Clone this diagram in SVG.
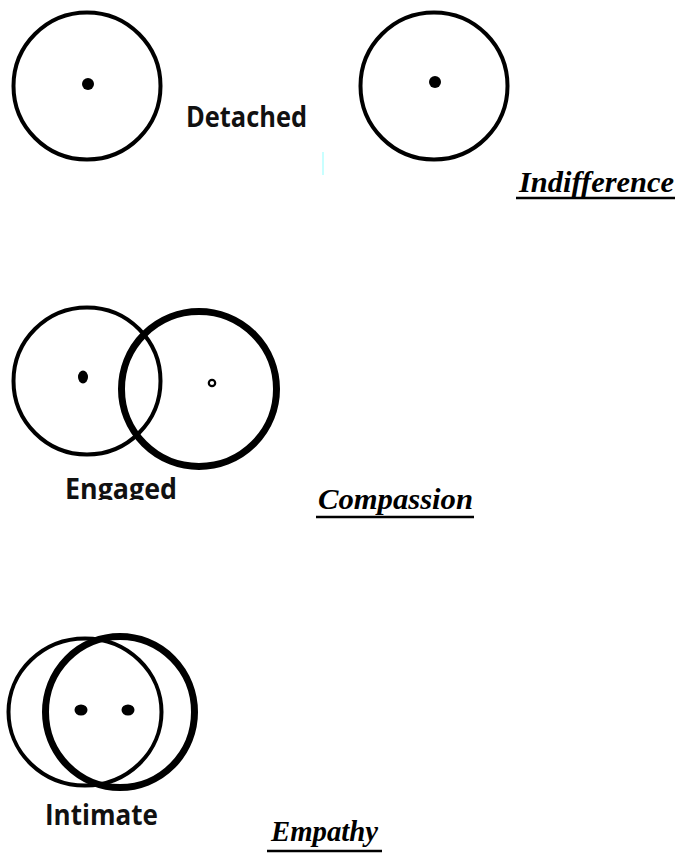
<svg xmlns="http://www.w3.org/2000/svg" width="679" height="853" viewBox="0 0 679 853">
<style>
.thin{fill:none;stroke:#000;stroke-width:4}
.thick{fill:none;stroke:#000;stroke-width:7}
.dot{fill:#000}
.lbl{font-family:"Open Sans","Liberation Sans",sans-serif;font-weight:bold;font-size:28px;fill:#111}
.ttl{font-family:"Liberation Serif","Times New Roman",serif;font-weight:bold;font-style:italic;font-size:29px;fill:#000}
.ul{stroke:#000;stroke-width:2.6}
</style>
<defs>
<clipPath id="engclip"><rect x="50" y="470" width="150" height="30"/></clipPath>
</defs>
<rect width="679" height="853" fill="#fff"/>
<g id="detached">
<circle class="thin" cx="87" cy="86" r="73.5"/>
<circle class="dot" cx="88" cy="84" r="6"/>
<text class="lbl" x="186" y="127" textLength="121" lengthAdjust="spacingAndGlyphs">Detached</text>
<line x1="323" y1="152" x2="323" y2="175" stroke="#c8ffff" stroke-width="2"/>
</g>
<g id="indifference">
<circle class="thin" cx="434" cy="86" r="73.5"/>
<circle class="dot" cx="435" cy="82" r="6"/>
<text class="ttl" x="519" y="192" textLength="155" lengthAdjust="spacingAndGlyphs">Indifference</text>
<line class="ul" x1="516" y1="198" x2="675" y2="198"/>
</g>
<g id="engaged">
<circle class="thin" cx="87" cy="381" r="73.5"/>
<circle class="thick" cx="199" cy="389" r="77.5"/>
<ellipse class="dot" cx="83" cy="377" rx="5" ry="6.5"/>
<circle cx="212" cy="383" r="3.2" fill="none" stroke="#000" stroke-width="2.2"/>
<text class="lbl" x="65" y="499" textLength="112" lengthAdjust="spacingAndGlyphs" clip-path="url(#engclip)">Engaged</text>
</g>
<g id="compassion">
<text class="ttl" x="318" y="509" textLength="155" lengthAdjust="spacingAndGlyphs">Compassion</text>
<line class="ul" x1="316" y1="517" x2="474" y2="517"/>
</g>
<g id="intimate">
<ellipse class="thin" cx="85" cy="712" rx="76.5" ry="73.5"/>
<ellipse class="thick" cx="120" cy="712" rx="74.5" ry="75.5"/>
<ellipse class="dot" cx="81" cy="710" rx="6.5" ry="5.5"/>
<ellipse class="dot" cx="128" cy="710" rx="6.5" ry="5.5"/>
<text class="lbl" x="45" y="825" textLength="113" lengthAdjust="spacingAndGlyphs">Intimate</text>
</g>
<g id="empathy">
<text class="ttl" x="271" y="841" textLength="107" lengthAdjust="spacingAndGlyphs">Empathy</text>
<line class="ul" x1="267" y1="851" x2="382" y2="851"/>
</g>
<g id="connectors"/>
</svg>
